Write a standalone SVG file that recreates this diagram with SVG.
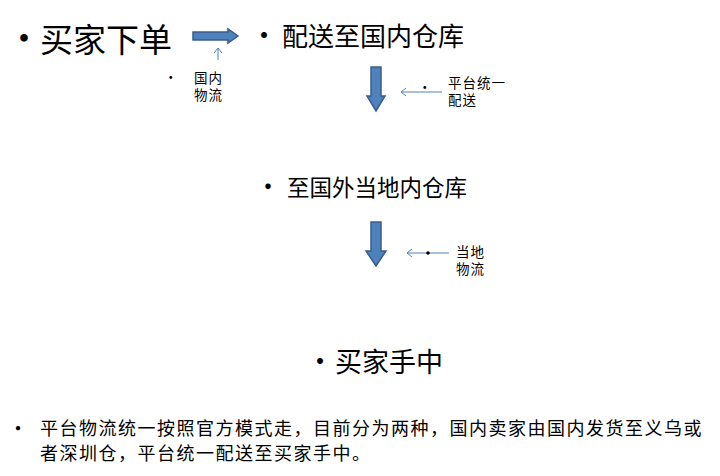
<svg xmlns="http://www.w3.org/2000/svg" width="720" height="476" viewBox="0 0 720 476">
<style>
text{font-family:"Noto Sans CJK SC","Liberation Sans",sans-serif;fill:#000}
.blk{fill:#4f81bd;stroke:#385d8a;stroke-width:1.5}
.thin{stroke:#4f81bd;stroke-width:1;fill:none}
.s{font-size:13.5px;letter-spacing:1px}
</style>
<rect width="720" height="476" fill="#fff"/>
<g id="n1"><text x="6" y="52" font-size="36">•</text><text x="40" y="52" font-size="33">买家下单</text></g>
<g id="n2"><text x="250" y="46" font-size="28">•</text><text x="282" y="46" font-size="26">配送至国内仓库</text></g>
<g id="n3"><text x="255" y="196" font-size="26">•</text><text x="287" y="196" font-size="22.5">至国外当地内仓库</text></g>
<g id="n4"><text x="306" y="372" font-size="28">•</text><text x="335" y="372" font-size="27">买家手中</text></g>
<g id="l1"><text x="164" y="82" class="s">•</text><text x="194" y="83" class="s">国内</text><text x="194" y="100" class="s">物流</text></g>
<g id="l2"><text x="418" y="92" class="s">•</text><text x="448" y="88" class="s">平台统一</text><text x="448" y="105" class="s">配送</text></g>
<g id="l3"><text x="456" y="257" class="s">当地</text><text x="456" y="274" class="s">物流</text></g>
<g id="note"><text x="8" y="436" font-size="20">•</text><text x="40" y="435" font-size="18" letter-spacing="1.5">平台物流统一按照官方模式走，目前分为两种，国内卖家由国内发货至义乌或</text><text x="40" y="460" font-size="18" letter-spacing="1.5">者深圳仓，平台统一配送至买家手中。</text></g>
<g id="connectors">
<path class="blk" d="M193 32H228V29L238 36L228 43V40H193Z"/>
<path class="blk" d="M371 67H381V96H385L376 111L367 96H371Z"/>
<path class="blk" d="M371 222H381V251H386L376 266L366 251H371Z"/>
<path class="thin" d="M218 60V48M214 53L218 48L222 53"/>
<path class="thin" d="M442 92H401M406 88L401 92L406 96"/>
<path class="thin" d="M449 253H407M412 249L407 253L412 257"/>
<circle cx="428" cy="253" r="1.8" fill="#000"/>
</g>
</svg>
